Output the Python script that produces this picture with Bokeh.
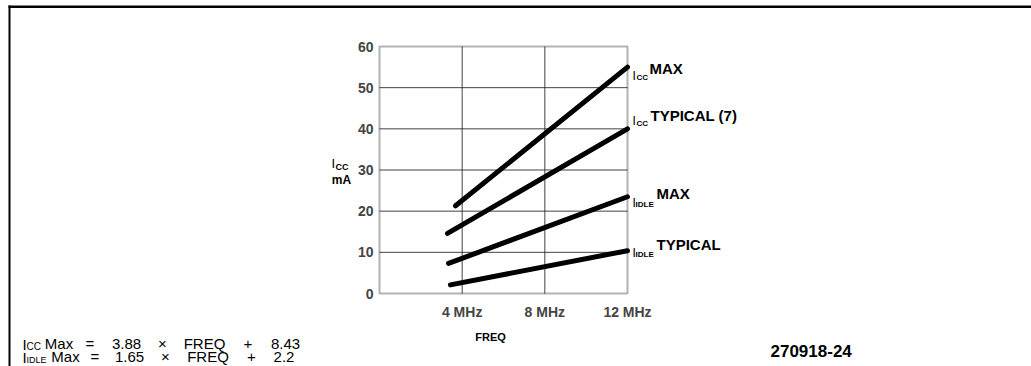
from bokeh.plotting import figure
from bokeh.models import Label, Range1d, BoxAnnotation
from bokeh.embed import file_html
from bokeh.resources import INLINE

# ---- data ----
series_names = ["ICC MAX", "ICC TYPICAL (7)", "IIDLE MAX", "IIDLE TYPICAL"]
freq_start = [3.68, 3.29, 3.34, 3.43]
freq_end = [12.0, 12.0, 12.0, 12.0]
ma_start = [21.3, 14.6, 7.3, 2.1]
ma_end = [55.0, 40.0, 23.5, 10.4]

x_ticks = [4, 8, 12]
x_tick_labels = ["4 MHz", "8 MHz", "12 MHz"]
y_ticks = [0, 10, 20, 30, 40, 50, 60]
x_min, x_max = 0, 12
y_min, y_max = 0, 60

FONT = "Liberation Sans"

W, H = 1031, 366
# plot-area placement in page pixels
PL, PR, PT, PB = 379, 627, 46, 293
XS = (PR - PL) / (x_max - x_min)
YS = (PB - PT) / (y_max - y_min)


def dx(px):
    return x_min + (px - PL) / XS


def dy(py):
    return y_min + (PB - py) / YS


p = figure(width=W, height=H, output_backend="svg", toolbar_location=None,
           x_axis_location=None, y_axis_location=None,
           x_range=Range1d(dx(0), dx(W)), y_range=Range1d(dy(H), dy(0)),
           min_border=0)
p.background_fill_color = "white"
p.border_fill_color = "white"
p.outline_line_color = None
p.grid.visible = False

# grid lines from tick values
gx = [t for t in x_ticks if x_min < t < x_max]
gy = [t for t in y_ticks if y_min < t < y_max]
p.segment(x0=gx, y0=[y_min] * len(gx), x1=gx, y1=[y_max] * len(gx),
          line_color="#222222", line_width=1, line_alpha=0.85)
p.segment(x0=[x_min] * len(gy), y0=gy, x1=[x_max] * len(gy), y1=gy,
          line_color="#222222", line_width=1, line_alpha=0.85)

# plot border
p.add_layout(BoxAnnotation(left=x_min, right=x_max, bottom=y_min, top=y_max,
                           fill_alpha=0, line_color="black", line_width=2))

for fs, fe, ms, me in zip(freq_start, freq_end, ma_start, ma_end):
    p.line([fs, fe], [ms, me], line_color="black", line_width=5, line_cap="round")


def lab(text, px, py, size, bold=True, align="left"):
    p.add_layout(Label(x=dx(px), y=dy(py), text=text, text_font=FONT,
                       text_font_size=f"{size}px",
                       text_font_style="bold" if bold else "normal",
                       text_color="black", text_align=align,
                       text_baseline="middle"))


# tick labels
for t in y_ticks:
    p.add_layout(Label(x=dx(PL - 6), y=t, text=str(t), text_font=FONT,
                       text_font_size="14px", text_font_style="bold",
                       text_align="right", text_baseline="middle"))
for t, s in zip(x_ticks, x_tick_labels):
    p.add_layout(Label(x=t, y=dy(PB + 18), text=s, text_font=FONT,
                       text_font_size="14px", text_font_style="bold",
                       text_align="center", text_baseline="middle"))

# series labels at right
lab("I", 632, 75, 12, False)
lab("CC", 636, 77, 8)
lab("MAX", 649, 67.5, 15)

lab("I", 632, 120, 12, False)
lab("CC", 636, 123, 8)
lab("TYPICAL (7)", 650, 114.5, 15)

lab("I", 632, 202, 12, False)
lab("IDLE", 635, 204, 8)
lab("MAX", 656, 193, 15)

lab("I", 632, 252, 12, False)
lab("IDLE", 635, 254, 8)
lab("TYPICAL", 656, 244, 15)

# y axis label
lab("I", 331, 163, 13, False)
lab("CC", 335, 166, 9)
lab("mA", 341, 179, 12, True, "center")

# x axis label
lab("FREQ", 490, 336, 11, True, "center")

# equations bottom-left
row1, row2 = 343, 356
lab("I", 22, row1 + 1, 15, False)
lab("CC", 26, row1 + 3, 10, False)
for t, x in [("Max", 58.5), ("=", 89.5), ("3.88", 126), ("\u00d7", 162), ("FREQ", 204), ("+", 247.5), ("8.43", 285)]:
    lab(t, x, row1, 15, False, "center")
lab("I", 22, row2 + 1, 15, False)
lab("IDLE", 26, row2 + 3, 9, False)
for t, x in [("Max", 65), ("=", 94.5), ("1.65", 129), ("\u00d7", 165), ("FREQ", 207.5), ("+", 251), ("2.2", 283.5)]:
    lab(t, x, row2, 15, False, "center")

# figure number
lab("270918-24", 770, 350, 17, True)

# page frame lines (top and left)
p.add_layout(BoxAnnotation(left=dx(8), right=dx(W), top=dy(5), bottom=dy(7.5),
                           fill_color="black", fill_alpha=1, line_alpha=0))
p.add_layout(BoxAnnotation(left=dx(8), right=dx(10), top=dy(5), bottom=dy(H),
                           fill_color="black", fill_alpha=1, line_alpha=0))

open("out.html", "w").write(file_html(p, INLINE))
